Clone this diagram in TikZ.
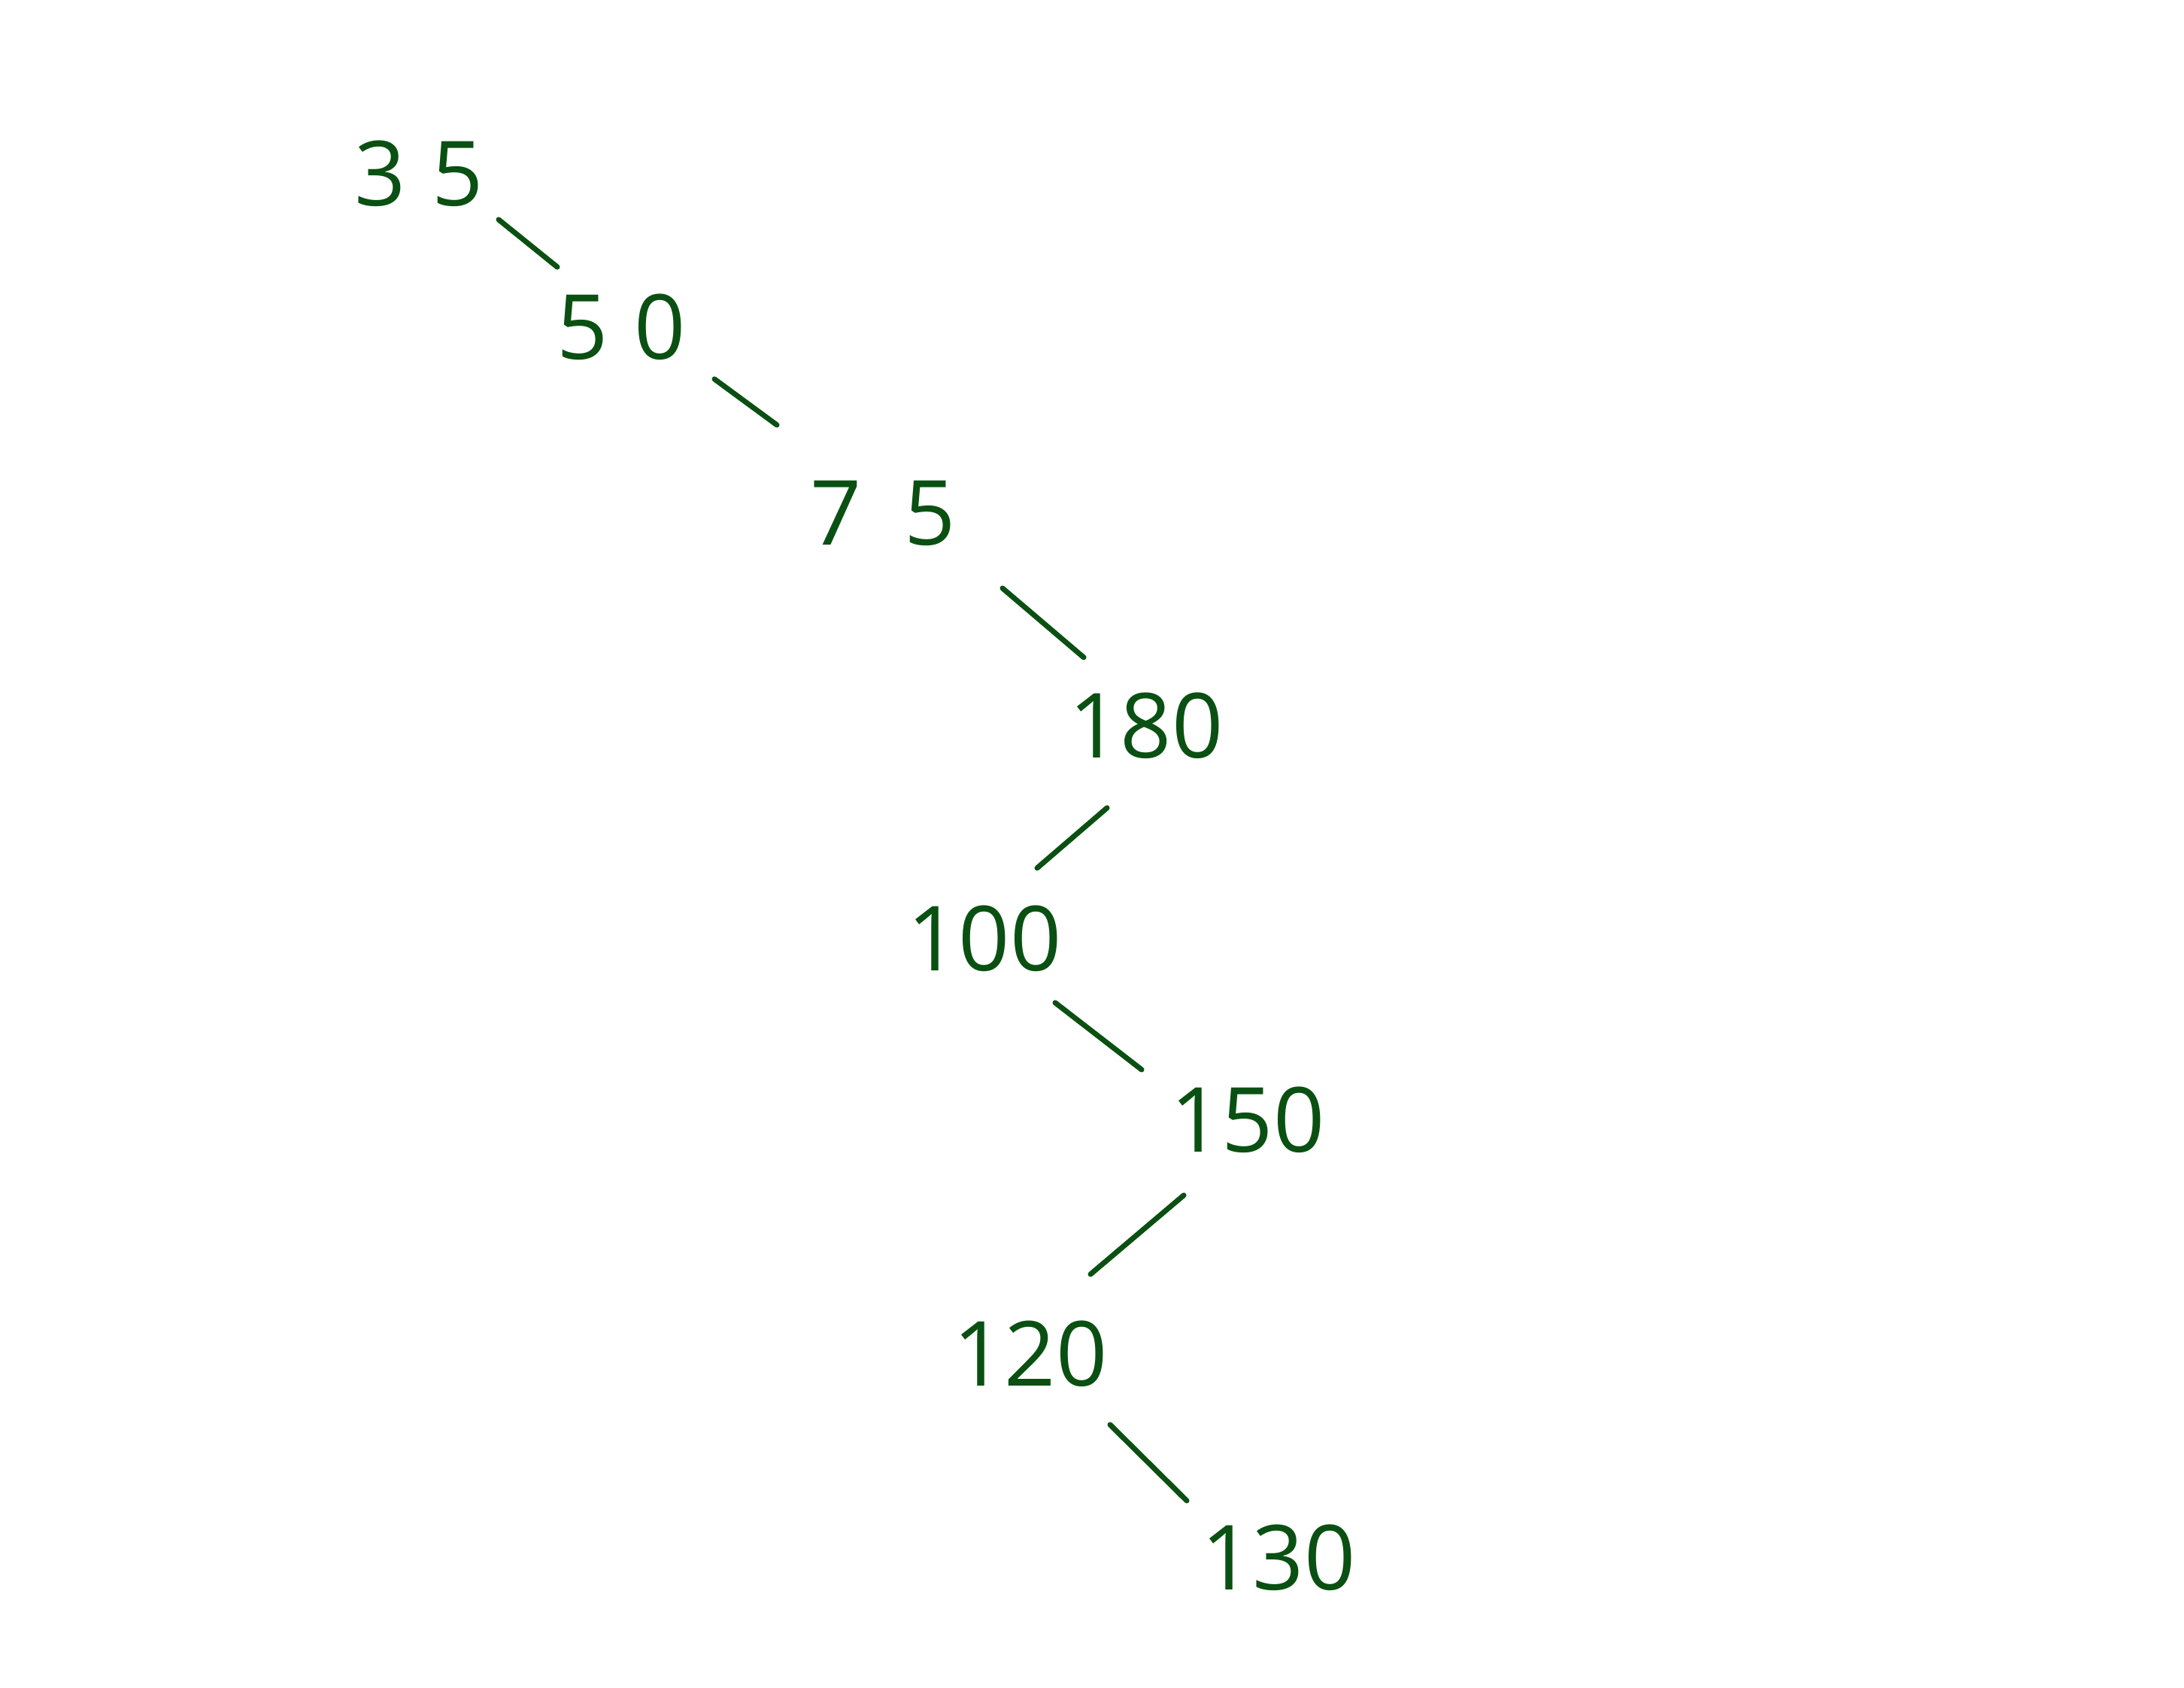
\documentclass[tikz,border=0pt]{standalone}
\usepackage{fontspec}
\setmainfont{Open Sans}
\usepackage{tikz}
\usetikzlibrary{calc}
\definecolor{inkgreen}{RGB}{10,80,18}
\tikzset{
  key/.style={color=inkgreen, inner sep=0pt, font=\fontsize{34}{38}\selectfont},
  branch/.style={color=inkgreen, line width=2pt, line cap=round}
}
\begin{document}
\begin{tikzpicture}
    \useasboundingbox (0,0) rectangle (29.04,22.44); % page
    \node[key] (n35)  at (5.57,20.13) {3\kern10pt5};
    \node[key] (n50)  at (8.26,18.09) {5\kern10pt0};
    \node[key] (n75)  at (11.74,15.62) {7\kern16pt5};
    \node[key] (n180) at (15.24,12.79) {180};
    \node[key] (n100) at (13.09,9.96) {100};
    \node[key] (n150) at (16.59,7.55) {150};
    \node[key] (n120) at (13.70,4.44) {120};
    \node[key] (n130) at (17.00,1.73) {130};
    \draw[branch] ($(n35)+(1.06,-0.61)$) -- ($(n50)+(-0.85,0.80)$); % right child
    \draw[branch] ($(n50)+(1.24,-0.69)$) -- ($(n75)+(-1.41,1.17)$); % right child
    \draw[branch] ($(n75)+(1.59,-1.00)$) -- ($(n180)+(-0.83,0.91)$); % right child
    \draw[branch] ($(n180)+(-0.52,-1.09)$) -- ($(n100)+(0.70,0.94)$); % left child
    \draw[branch] ($(n100)+(0.94,-0.85)$) -- ($(n150)+(-1.41,0.67)$); % right child
    \draw[branch] ($(n150)+(-0.85,-1.00)$) -- ($(n120)+(0.80,1.06)$); % left child
    \draw[branch] ($(n120)+(1.06,-0.94)$) -- ($(n130)+(-1.22,0.76)$); % right child
  \end{tikzpicture}
\end{document}
